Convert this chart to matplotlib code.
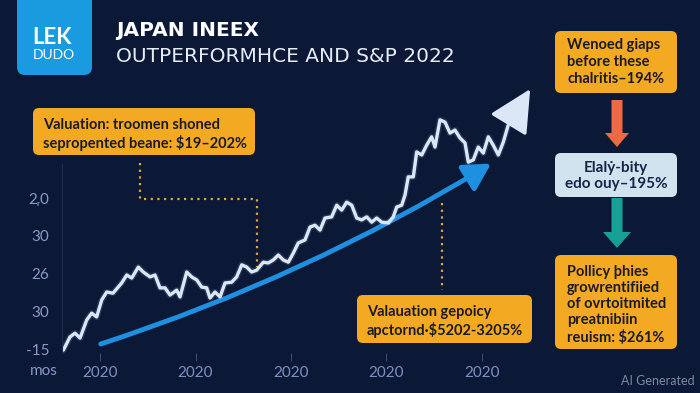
import matplotlib
matplotlib.use("Agg")
import matplotlib.pyplot as plt
from matplotlib.patches import FancyBboxPatch, FancyArrow, FancyArrowPatch

plt.rcParams["font.family"] = ["Lato", "DejaVu Sans"]

# --- data ---
line_x = [-0.384, -0.314, -0.262, -0.209, -0.139, -0.087, -0.035, 0.018, 0.070, 0.136,
          0.227, 0.280, 0.332, 0.401, 0.453, 0.524, 0.576, 0.628, 0.681, 0.733,
          0.803, 0.838, 0.908, 0.960, 1.013, 1.065, 1.117, 1.152, 1.204, 1.257,
          1.309, 1.379, 1.431, 1.484, 1.536, 1.588, 1.641, 1.710, 1.762, 1.815,
          1.867, 1.919, 1.972, 2.024, 2.076, 2.147, 2.199, 2.251, 2.304, 2.356,
          2.426, 2.479, 2.531, 2.583, 2.636, 2.688, 2.740, 2.793, 2.845, 2.897,
          2.950, 3.019, 3.071, 3.107, 3.159, 3.194, 3.228, 3.281, 3.316, 3.369,
          3.421, 3.473, 3.508, 3.560, 3.613, 3.665, 3.717, 3.770, 3.822, 3.857,
          3.909, 3.961, 4.014, 4.066, 4.118, 4.171, 4.223, 4.275]
line_y = [-0.03, 0.32, 0.42, 0.29, 0.77, 0.95, 0.85, 1.30, 1.51, 1.48,
          1.75, 1.96, 1.88, 2.17, 2.04, 1.91, 1.96, 1.62, 1.62, 1.43,
          1.56, 1.38, 2.04, 1.91, 1.83, 1.64, 1.62, 1.35, 1.51, 1.38,
          1.75, 1.77, 1.91, 2.23, 2.17, 2.04, 2.09, 2.30, 2.28, 2.36,
          2.49, 2.36, 2.30, 2.54, 2.81, 2.89, 3.23, 3.28, 3.15, 3.47,
          3.50, 3.81, 3.68, 3.89, 3.81, 3.47, 3.42, 3.50, 3.36, 3.47,
          3.36, 3.34, 3.50, 3.76, 3.81, 4.08, 4.56, 4.56, 5.22, 5.14,
          5.40, 5.62, 5.35, 6.07, 6.01, 5.72, 5.80, 5.59, 5.46, 4.95,
          5.01, 5.35, 5.19, 5.62, 5.40, 5.14, 5.48, 5.93]
line_tip = (4.52, 6.95)
trend_x = [-0.02, 4.12]
trend_y = [0.11, 4.95]

x_ticks = [0, 1, 2, 3, 4]
x_labels = ["2020", "2020", "2020", "2020", "2020"]
y_ticks = [0, 1, 2, 3, 4]
y_labels = ["-15", "30", "26", "30", "2ᵣ0"]

title1 = "JAPAN INEEX"
title2 = "OUTPERFORMНCE AND S&P 2022"
box1_lines = ["Valuation: troomen shoned", "sepropented beane: $19\u2013202%"]
box2_lines = ["Valauation gepoicy", "apctornd\u00b7$5202-3205%"]
box3_lines = ["Wenoed giaps", "before these", "chalritis\u2013194%"]
box4_lines = ["Elalẏ-bity", "edo ouy\u2013195%"]
box5_lines = ["Pollicy þhies", "growrentifiied", "of ovrtoitmited", "preatnibiin", "reuism: $261%"]

bg = "#0b1836"
orange = "#f3aa22"
dark_txt = "#1b1b26"

fig = plt.figure(figsize=(7, 3.93), dpi=100, facecolor=bg)

# overlay in pixel coords for titles and call-out boxes
ov = fig.add_axes([0, 0, 1, 1], zorder=0)
ov.set_xlim(0, 700)
ov.set_ylim(393, 0)
ov.axis("off")

# logo
ov.add_patch(FancyBboxPatch((17, -20), 75, 95, boxstyle="round,pad=0,rounding_size=8",
                            fc="#1a9be0", ec="none"))
ov.text(32, 37, "LEK", fontsize=16, fontweight="bold", color="white", va="center")
ov.text(33, 55, "DUDO", fontsize=10, color="white", va="center")

ov.text(116, 31, title1, fontsize=14.5, fontweight="bold", color="white", va="center",
        family="DejaVu Sans")
ov.text(116, 57, title2, fontsize=14.5, color="#e4ecf7", va="center", family="DejaVu Sans")

def box(x, y, w, h, lines, ys, fc, tc, ha="left", tx=None, fs=10, weight="bold"):
    ov.add_patch(FancyBboxPatch((x, y), w, h, boxstyle="round,pad=0,rounding_size=6",
                                fc=fc, ec="none"))
    for line, ty in zip(lines, ys):
        ov.text(tx if tx is not None else x + 10, ty, line, fontsize=fs,
                fontweight=weight, color=tc, va="center", ha=ha)

box(33, 108, 222, 47, box1_lines, [125, 143], orange, dark_txt, fs=10.5)
box(357, 295, 175, 48, box2_lines, [312, 330], orange, dark_txt, fs=10.5)
box(555, 31, 122, 62, box3_lines, [45, 62, 79], orange, dark_txt, tx=567, fs=10.5)
box(555, 153, 122, 44, box4_lines, [168, 184], "#d2e3f0", "#16264a", ha="center", tx=616, fs=11)
box(555, 255, 122, 94, box5_lines, [272, 288, 304, 320, 337], orange, dark_txt, tx=567, fs=10.5)

# dotted connectors
ov.plot([140, 140, 257, 257], [163, 199, 199, 267], ls=(0, (1, 2)), color="#e8a530", lw=1.6)
ov.plot([442, 442], [203, 290], ls=(0, (1, 2)), color="#e8a530", lw=1.6)

# flow arrows on the right
ov.add_patch(FancyArrow(617, 100, 0, 47, width=11, head_width=24, head_length=14,
                        length_includes_head=True, color="#ee6a44", ec="none"))
ov.add_patch(FancyArrow(617, 198, 0, 50, width=11, head_width=28, head_length=16,
                        length_includes_head=True, color="#17a096", ec="none"))

ov.text(695, 381, "AI Generated", fontsize=9, color="#7d8aa0", ha="right", va="center")
ov.text(30, 371, "mos", fontsize=11, color="#8a9ac6", ha="left", va="center")

# main chart
ax = fig.add_axes([0.0883, 0.0927, 0.6821, 0.6916], zorder=1)
ax.set_facecolor("none")
ax.set_xlim(-0.4, 4.6)
ax.set_ylim(-0.2, 7.0)
for s in ["top", "right", "bottom"]:
    ax.spines[s].set_visible(False)
ax.spines["left"].set_color("#1e2d55")
ax.spines["left"].set_bounds(-0.1, 4.9)

ax.plot(line_x, line_y, color="#8fb0e0", lw=4.5, alpha=0.18, solid_capstyle="round")
ax.plot(line_x, line_y, color="#dbe7f6", lw=2.4, solid_capstyle="round")
ax.annotate("", xy=line_tip, xytext=(line_x[-1], line_y[-1]),
            arrowprops=dict(arrowstyle="-|>,head_width=0.6,head_length=1.2",
                            color="#dbe7f6", lw=2.4, mutation_scale=22))

ax.add_patch(FancyArrowPatch((trend_x[0], trend_y[0]), (trend_x[1], trend_y[1]),
                             connectionstyle="arc3,rad=0.06",
                             arrowstyle="-|>,head_width=0.5,head_length=0.9",
                             mutation_scale=18, color="#1f8fdf", lw=3.5))

ax.set_xticks(x_ticks)
ax.set_xticklabels(x_labels)
ax.set_yticks(y_ticks)
ax.set_yticklabels(y_labels)
ax.tick_params(axis="x", colors="#3a4a70", direction="inout", length=6, pad=4,
               labelsize=11, labelcolor="#7f8fc4")
ax.tick_params(axis="y", length=0, pad=9, labelsize=11, labelcolor="#8a9ac6")

fig.savefig("out.png", dpi=100, facecolor=bg)
